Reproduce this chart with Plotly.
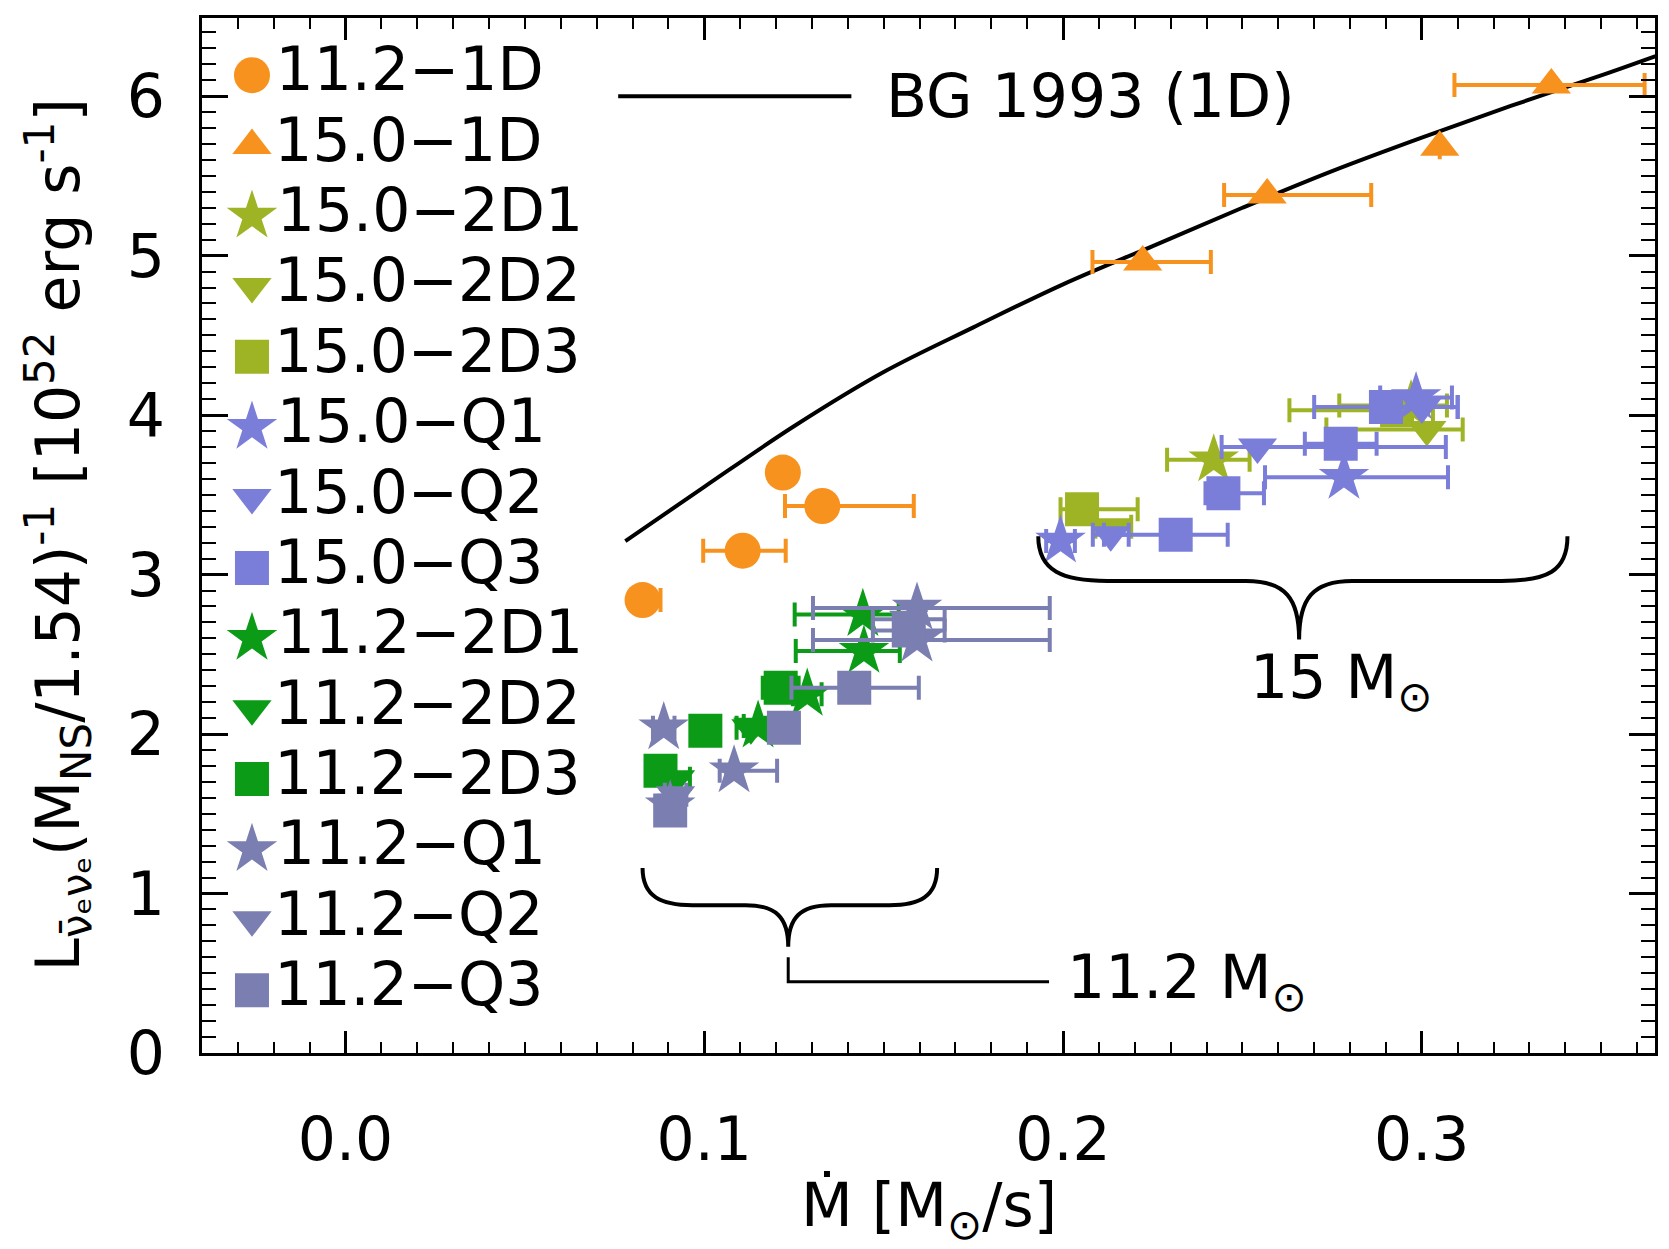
import plotly.graph_objects as go

# ---------------- data ----------------
series_names = ["11.2−1D", "15.0−1D", "15.0−2D1", "15.0−2D2", "15.0−2D3",
                "15.0−Q1", "15.0−Q2", "15.0−Q3", "11.2−2D1", "11.2−2D2",
                "11.2−2D3", "11.2−Q1", "11.2−Q2", "11.2−Q3"]

# 11.2-1D (orange circles)
s112_1d_x = [0.0828, 0.1107, 0.1219, 0.1329]
s112_1d_y = [2.84, 3.15, 3.64, 3.43]
s112_1d_ep = [0.005, 0.012, 0.0, 0.0255]
s112_1d_em = [0.0, 0.011, 0.0, 0.0104]

# 15.0-1D (orange triangles)
s150_1d_x = [0.2222, 0.2569, 0.3050, 0.3361]
s150_1d_y = [4.96, 5.38, 5.68, 6.07]
s150_1d_ep = [0.019, 0.029, 0.0, 0.026]
s150_1d_em = [0.014, 0.012, 0.0, 0.027]

# 15.0-2D1 (olive stars)
s150_2d1_x = [0.2420, 0.2970]
s150_2d1_y = [3.72, 4.06]
s150_2d1_ep = [0.010, 0.010]
s150_2d1_em = [0.013, 0.020]

# 15.0-2D2 (olive down-triangles)
s150_2d2_x = [0.2140, 0.3014]
s150_2d2_y = [3.30, 3.91]
s150_2d2_ep = [0.005, 0.010]
s150_2d2_em = [0.005, 0.028]

# 15.0-2D3 (olive squares)
s150_2d3_x = [0.2053, 0.2931]
s150_2d3_y = [3.41, 4.03]
s150_2d3_ep = [0.0155, 0.010]
s150_2d3_em = [0.006, 0.030]

# 15.0-Q1 (blue stars)
s150_q1_x = [0.1993, 0.2783, 0.2984]
s150_q1_y = [3.21, 3.61, 4.11]
s150_q1_ep = [0.004, 0.029, 0.010]
s150_q1_em = [0.004, 0.022, 0.010]

# 15.0-Q2 (blue down-triangles)
s150_q2_x = [0.2133, 0.2542, 0.3000]
s150_q2_y = [3.25, 3.80, 4.05]
s150_q2_ep = [0.005, 0.0525, 0.010]
s150_q2_em = [0.005, 0.010, 0.010]

# 15.0-Q3 (blue squares)
s150_q3_x = [0.2314, 0.2447, 0.2774, 0.2900]
s150_q3_y = [3.25, 3.51, 3.82, 4.05]
s150_q3_ep = [0.0145, 0.0113, 0.010, 0.020]
s150_q3_em = [0.020, 0.005, 0.010, 0.020]

# 11.2-2D1 (green stars)
s112_2d1_x = [0.1442, 0.1445, 0.1287, 0.1150]
s112_2d1_y = [2.75, 2.52, 2.25, 2.05]
s112_2d1_ep = [0.010, 0.010, 0.004, 0.004]
s112_2d1_em = [0.019, 0.019, 0.004, 0.004]

# 11.2-2D2 (green down-triangles)
s112_2d2_x = [0.1130, 0.0920]
s112_2d2_y = [2.04, 1.72]
s112_2d2_ep = [0.004, 0.004]
s112_2d2_em = [0.004, 0.004]

# 11.2-2D3 (green squares)
s112_2d3_x = [0.0878, 0.1003, 0.1213]
s112_2d3_y = [1.77, 2.02, 2.29]
s112_2d3_ep = [0.003, 0.004, 0.005]
s112_2d3_em = [0.003, 0.004, 0.005]

# 11.2-Q1 (grey stars)
s112_q1_x = [0.0887, 0.1083, 0.0905, 0.1593, 0.1593]
s112_q1_y = [2.04, 1.77, 1.55, 2.79, 2.59]
s112_q1_ep = [0.003, 0.012, 0.003, 0.037, 0.037]
s112_q1_em = [0.003, 0.004, 0.003, 0.029, 0.029]

# 11.2-Q2 (grey down-triangles)
s112_q2_x = [0.0920, 0.1570]
s112_q2_y = [1.62, 2.72]
s112_q2_ep = [0.003, 0.010]
s112_q2_em = [0.003, 0.010]

# 11.2-Q3 (grey squares)
s112_q3_x = [0.0905, 0.1222, 0.1418, 0.1570]
s112_q3_y = [1.52, 2.04, 2.29, 2.65]
s112_q3_ep = [0.003, 0.004, 0.018, 0.010]
s112_q3_em = [0.003, 0.004, 0.0175, 0.010]

# Burrows & Goshy 1993 critical curve
bg_x = [0.078, 0.100, 0.125, 0.150, 0.175, 0.200, 0.225, 0.250, 0.275, 0.300, 0.325, 0.350, 0.370]
bg_y = [3.21, 3.55, 3.93, 4.27, 4.55, 4.82, 5.06, 5.30, 5.53, 5.74, 5.94, 6.13, 6.29]

x_ticks = [0.0, 0.1, 0.2, 0.3]
x_tick_labels = ["0.0", "0.1", "0.2", "0.3"]
y_ticks = [0, 1, 2, 3, 4, 5, 6]
y_tick_labels = ["0", "1", "2", "3", "4", "5", "6"]

# ---------------- styling ----------------
ORANGE = "#F7921E"
OLIVE = "#9FB424"
BLUE = "#7A7ED8"
GREEN = "#0B9B16"
GREY = "#7B7EB0"
FONT = "DejaVu Sans"
FS = 60

series = [
    (s112_1d_x, s112_1d_y, s112_1d_ep, s112_1d_em, "circle", ORANGE, 36),
    (s150_1d_x, s150_1d_y, s150_1d_ep, s150_1d_em, "triangle-up", ORANGE, 34),
    (s150_2d1_x, s150_2d1_y, s150_2d1_ep, s150_2d1_em, "star", OLIVE, 38),
    (s150_2d2_x, s150_2d2_y, s150_2d2_ep, s150_2d2_em, "triangle-down", OLIVE, 34),
    (s150_2d3_x, s150_2d3_y, s150_2d3_ep, s150_2d3_em, "square", OLIVE, 34),
    (s150_q1_x, s150_q1_y, s150_q1_ep, s150_q1_em, "star", BLUE, 38),
    (s150_q2_x, s150_q2_y, s150_q2_ep, s150_q2_em, "triangle-down", BLUE, 34),
    (s150_q3_x, s150_q3_y, s150_q3_ep, s150_q3_em, "square", BLUE, 34),
    (s112_2d1_x, s112_2d1_y, s112_2d1_ep, s112_2d1_em, "star", GREEN, 38),
    (s112_2d2_x, s112_2d2_y, s112_2d2_ep, s112_2d2_em, "triangle-down", GREEN, 34),
    (s112_2d3_x, s112_2d3_y, s112_2d3_ep, s112_2d3_em, "square", GREEN, 34),
    (s112_q1_x, s112_q1_y, s112_q1_ep, s112_q1_em, "star", GREY, 38),
    (s112_q2_x, s112_q2_y, s112_q2_ep, s112_q2_em, "triangle-down", GREY, 34),
    (s112_q3_x, s112_q3_y, s112_q3_ep, s112_q3_em, "square", GREY, 34),
]

fig = go.Figure()

# critical curve
fig.add_trace(go.Scatter(x=bg_x, y=bg_y, mode="lines",
                         line=dict(color="black", width=4, shape="spline", smoothing=1.0),
                         showlegend=False, hoverinfo="skip", cliponaxis=True))

for (xs, ys, ep, em, sym, col, sz), name in zip(series, series_names):
    fig.add_trace(go.Scatter(
        x=xs, y=ys, mode="markers", name=name,
        marker=dict(symbol=sym, color=col, size=sz, line=dict(width=0)),
        error_x=dict(type="data", symmetric=False, array=ep, arrayminus=em,
                     color=col, thickness=4, width=12),
        showlegend=False))

# hand-made legend on an overlay axis (big markers like the original)
row0, drow, legx = 0.9447, 0.068, 0.0344
for i, ((xs, ys, ep, em, sym, col, sz), name) in enumerate(zip(series, series_names)):
    fig.add_trace(go.Scatter(
        x=[legx], y=[row0 - i * drow], xaxis="x2", yaxis="y2",
        mode="markers+text", text=[name], textposition="middle right",
        textfont=dict(family=FONT, size=FS, color="black"),
        marker=dict(symbol=sym, color=col, size=sz, line=dict(width=0)),
        showlegend=False, hoverinfo="skip"))

axis_common = dict(showline=True, linecolor="black", linewidth=3, mirror="ticks",
                   ticks="inside", tickcolor="black", tickwidth=2.5,
                   showgrid=False, zeroline=False,
                   tickfont=dict(family=FONT, size=FS, color="black"))

# the page body has an 8px margin, so the figure is shrunk by 8px and shifted
fig.update_layout(
    width=1661, height=1241,
    margin=dict(l=194, r=14, t=7, b=196),
    paper_bgcolor="white", plot_bgcolor="white",
    font=dict(family=FONT, size=FS, color="black"),
    xaxis=dict(range=[-0.04, 0.365], tickvals=x_ticks, ticktext=x_tick_labels,
               ticklen=22, ticklabelstandoff=32,
               minor=dict(dtick=0.01, tick0=0, ticklen=11, ticks="inside",
                          tickcolor="black", tickwidth=2),
               **axis_common),
    yaxis=dict(range=[0, 6.49], tickvals=y_ticks, ticktext=y_tick_labels,
               ticklen=26, ticklabelstandoff=22,
               minor=dict(dtick=0.1, tick0=0, ticklen=14, ticks="inside",
                          tickcolor="black", tickwidth=2),
               **axis_common),
    xaxis2=dict(range=[0, 1], overlaying="x", visible=False, anchor="y2"),
    yaxis2=dict(range=[0, 1], overlaying="y", visible=False, anchor="x2"),
    showlegend=False,
)

# BG 1993 label with its line sample
fig.add_shape(type="line", xref="x", yref="y", x0=0.076, x1=0.141, y0=6.0, y1=6.0,
              line=dict(color="black", width=4))
fig.add_annotation(x=0.150, y=6.0, xref="x", yref="y", text="BG 1993 (1D)",
                   showarrow=False, xanchor="left", yanchor="middle",
                   font=dict(family=FONT, size=FS, color="black"))

# braces
brace15 = ("M 0.1931,3.24 C 0.1931,3.02 0.2000,2.96 0.2124,2.96 L 0.2510,2.96 "
           "C 0.2620,2.96 0.2658,2.85 0.2658,2.593 C 0.2658,2.85 0.2696,2.96 0.2806,2.96 "
           "L 0.3222,2.96 C 0.3350,2.96 0.3406,3.02 0.3406,3.24")
brace112 = ("M 0.0828,1.16 C 0.0828,0.98 0.0880,0.927 0.0967,0.927 L 0.1115,0.927 "
            "C 0.1200,0.927 0.1234,0.85 0.1234,0.667 C 0.1234,0.85 0.1268,0.927 0.1353,0.927 "
            "L 0.1516,0.927 C 0.1600,0.927 0.1649,0.98 0.1649,1.16")
for p in (brace15, brace112):
    fig.add_shape(type="path", path=p, xref="x", yref="y",
                  line=dict(color="black", width=4))
fig.add_shape(type="path", xref="x", yref="y",
              path="M 0.1234,0.60 L 0.1234,0.447 L 0.1961,0.447",
              line=dict(color="black", width=3))

fig.add_annotation(x=0.2005, y=0.447, xref="x", yref="y", text="11.2 M<sub>⊙</sub>",
                   showarrow=False, xanchor="left", yanchor="middle",
                   font=dict(family=FONT, size=FS, color="black"))
fig.add_annotation(x=0.2775, y=2.33, xref="x", yref="y", text="15 M<sub>⊙</sub>",
                   showarrow=False, xanchor="center", yanchor="middle",
                   font=dict(family=FONT, size=FS, color="black"))

# axis titles
fig.add_annotation(x=-0.0991, y=0.5, xref="paper", yref="paper", textangle=-90,
                   text="L<sub>ν̄ₑνₑ</sub>(M<sub>NS</sub>/1.54)<sup>-1</sup> [10<sup>52</sup> erg s<sup>-1</sup>]",
                   showarrow=False, xanchor="center", yanchor="middle",
                   font=dict(family=FONT, size=FS, color="black"))
fig.add_annotation(x=0.5, y=-0.151, xref="paper", yref="paper",
                   text="Ṁ [M<sub>⊙</sub>/s]",
                   showarrow=False, xanchor="center", yanchor="middle",
                   font=dict(family=FONT, size=FS, color="black"))

fig.write_html("out.html")
